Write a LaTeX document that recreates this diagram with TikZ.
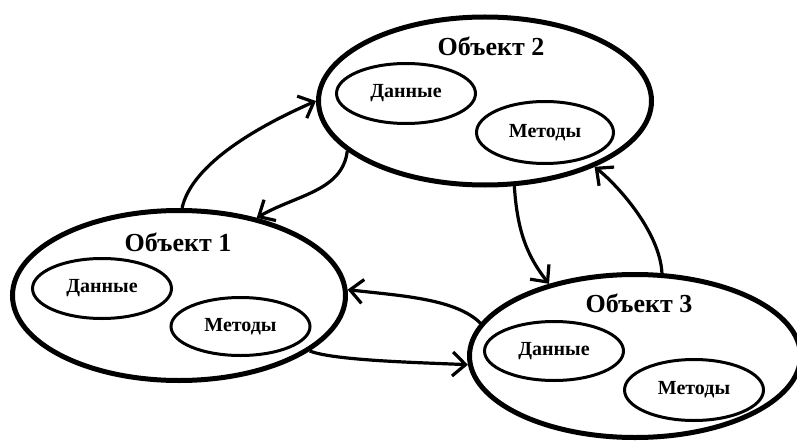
\documentclass[tikz,border=0pt]{standalone}
\usepackage{fontspec}
\setmainfont{Liberation Serif}
\usetikzlibrary{shapes.geometric,arrows.meta}

\tikzset{
  object/.style={ellipse, draw, line width=5pt, inner sep=0pt},
  part/.style={ellipse, draw, line width=3pt, inner sep=0pt,
    minimum width=139pt, minimum height=60pt,
    font=\bfseries\fontsize{20}{22}\selectfont},
  title/.style={font=\bfseries\fontsize{26}{28}\selectfont, inner sep=0pt},
  link/.style={line width=3.2pt,
    -{Straight Barb[length=13pt,width=24pt]}},
}

\begin{document}
\begin{tikzpicture}[x=1pt,y=-1pt]
  \useasboundingbox (0,0) rectangle (797,441);

  % the three objects
  \node[object, minimum width=333pt, minimum height=170pt] (o1) at (179,295.5) {};
  \node[object, minimum width=333pt, minimum height=168pt] (o2) at (485,101) {};
  \node[object, minimum width=331pt, minimum height=163pt] (o3) at (635,356) {};

  % titles
  \node[title] (t1) at (178,242) {Объект 1};
  \node[title] (t2) at (491,46) {Объект 2};
  \node[title] (t3) at (639,303) {Объект 3};

  % data and methods inside each object
  \node[part] (d1) at (102,288.5) {Данные};
  \node[part, minimum height=58pt] (m1) at (240.5,326.5) {Методы};
  \node[part] (d2) at (406,93.5) {Данные};
  \node[part, minimum width=137pt, minimum height=62pt] (m2) at (545,132.5) {Методы};
  \node[part, minimum height=59pt] (d3) at (554,351) {Данные};
  \node[part, minimum height=61pt] (m3) at (694,390) {Методы};

  % messages between the objects
  \draw[link] (o1.88) .. controls +(10,-45) and +(-55,24) .. (o2.180);
  \draw[link] (o2.200) .. controls +(-5,40) and +(40,-23) .. (o1.45);
  \draw[link] (o2.289) .. controls +(3,45) and +(-22,-28) .. (o3.140);
  \draw[link] (o3.72) .. controls +(-2,-40) and +(25,20) .. (o2.329);
  \draw[link] (o3.168) .. controls +(-25,-25) and +(50,6) .. (o1.2.5);
  \draw[link] (o1.337) .. controls +(25,10) and +(-40,-2) .. (o3.183.4);
\end{tikzpicture}
\end{document}
